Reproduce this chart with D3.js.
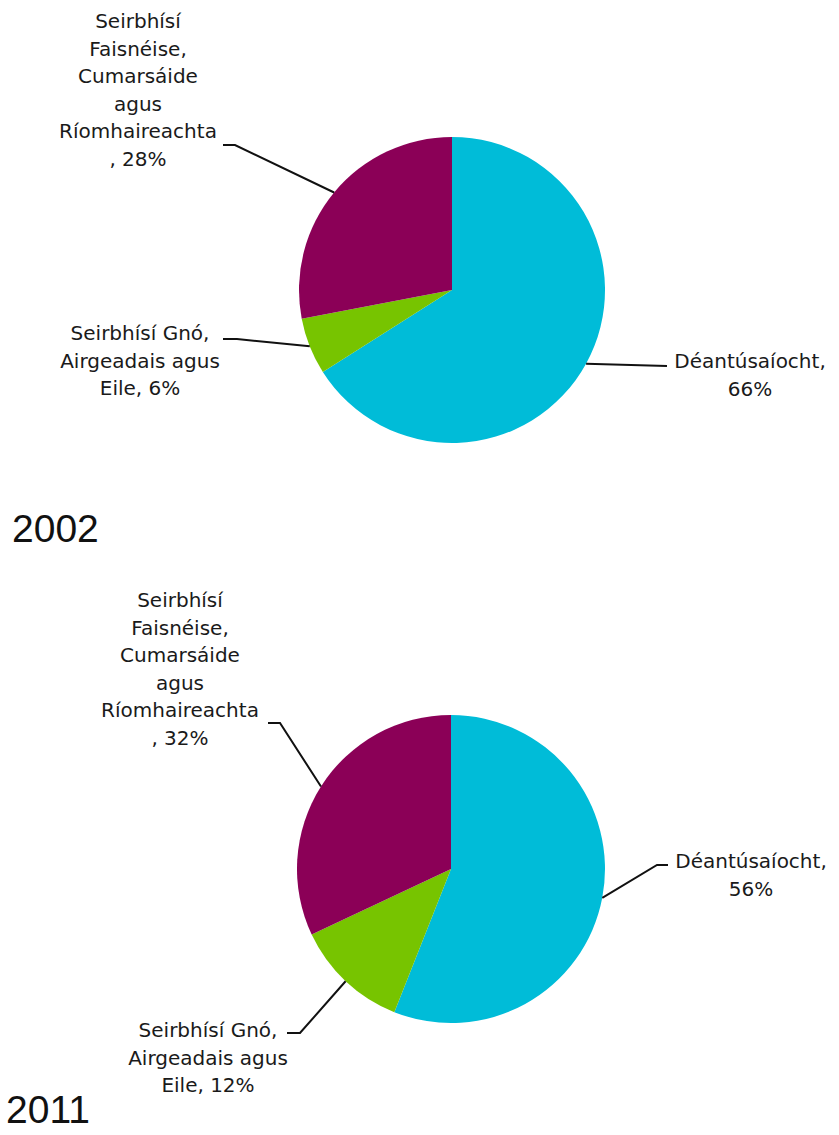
<!DOCTYPE html>
<html>
<head>
<meta charset="utf-8">
<script src="https://cdn.jsdelivr.net/npm/d3@7"></script>
<style>
  html, body { margin: 0; padding: 0; background: #ffffff; }
  svg { display: block; }
</style>
</head>
<body>
<svg id="chart" width="839" height="1135"></svg>
<script>
// ---- Data ----
const categories = ["Déantúsaíocht", "Seirbhísí Gnó, Airgeadais agus Eile", "Seirbhísí Faisnéise, Cumarsáide agus Ríomhaireachta"];
const years = ["2002", "2011"];
const values2002 = [66, 6, 28];
const values2011 = [56, 12, 32];
const colors = ["#00bcd8", "#77c400", "#8b0057"];

// label line breaks (text), per year and category
const labelLines2002 = [
  ["Déantúsaíocht,", "66%"],
  ["Seirbhísí Gnó,", "Airgeadais agus", "Eile, 6%"],
  ["Seirbhísí", "Faisnéise,", "Cumarsáide", "agus", "Ríomhaireachta", ", 28%"]
];
const labelLines2011 = [
  ["Déantúsaíocht,", "56%"],
  ["Seirbhísí Gnó,", "Airgeadais agus", "Eile, 12%"],
  ["Seirbhísí", "Faisnéise,", "Cumarsáide", "agus", "Ríomhaireachta", ", 32%"]
];

// ---- Layout ----
const charts = [
  {
    year: years[0], values: values2002, lines: labelLines2002,
    cx: 452, cy: 290, r: 153,
    yearPos: [12, 542],
    labels: [
      { x: 750, y: 368, elbow: [667, 366], end: [667, 366] },
      { x: 140, y: 340, elbow: [237, 339], end: [223, 339] },
      { x: 138, y: 28,  elbow: [235, 145], end: [223, 145] }
    ]
  },
  {
    year: years[1], values: values2011, lines: labelLines2011,
    cx: 451, cy: 869, r: 154,
    yearPos: [6, 1123],
    labels: [
      { x: 751, y: 868, elbow: [657, 865], end: [668, 865] },
      { x: 208, y: 1037, elbow: [300, 1033], end: [287, 1033] },
      { x: 180, y: 607, elbow: [280, 723], end: [268, 723] }
    ]
  }
];

const lineH = 27.5;
const svg = d3.select("#chart");
const pie = d3.pie().sort(null).value(d => d);

charts.forEach(c => {
  const g = svg.append("g").attr("transform", `translate(${c.cx},${c.cy})`);
  const arc = d3.arc().innerRadius(0).outerRadius(c.r);
  const arcs = pie(c.values);

  g.selectAll("path.slice")
    .data(arcs)
    .join("path")
    .attr("class", "slice")
    .attr("d", arc)
    .attr("fill", (d, i) => colors[i]);

  // leader lines
  arcs.forEach((d, i) => {
    const mid = (d.startAngle + d.endAngle) / 2;
    const px = c.cx + c.r * Math.sin(mid);
    const py = c.cy - c.r * Math.cos(mid);
    const L = c.labels[i];
    svg.append("path")
      .attr("d", d3.line()([[px, py], L.elbow, L.end]))
      .attr("fill", "none")
      .attr("stroke", "#111")
      .attr("stroke-width", 2);

    const t = svg.append("text")
      .attr("font-family", "'DejaVu Sans', Verdana, sans-serif")
      .attr("font-size", 20)
      .attr("fill", "#1a1a1a")
      .attr("text-anchor", "middle");
    c.lines[i].forEach((s, k) => {
      t.append("tspan").attr("x", L.x).attr("y", L.y + k * lineH).text(s);
    });
  });

  svg.append("text")
    .attr("x", c.yearPos[0])
    .attr("y", c.yearPos[1])
    .attr("font-family", "'Liberation Sans', Arial, sans-serif")
    .attr("font-size", 39)
    .attr("fill", "#111")
    .text(c.year);
});
</script>
</body>
</html>
